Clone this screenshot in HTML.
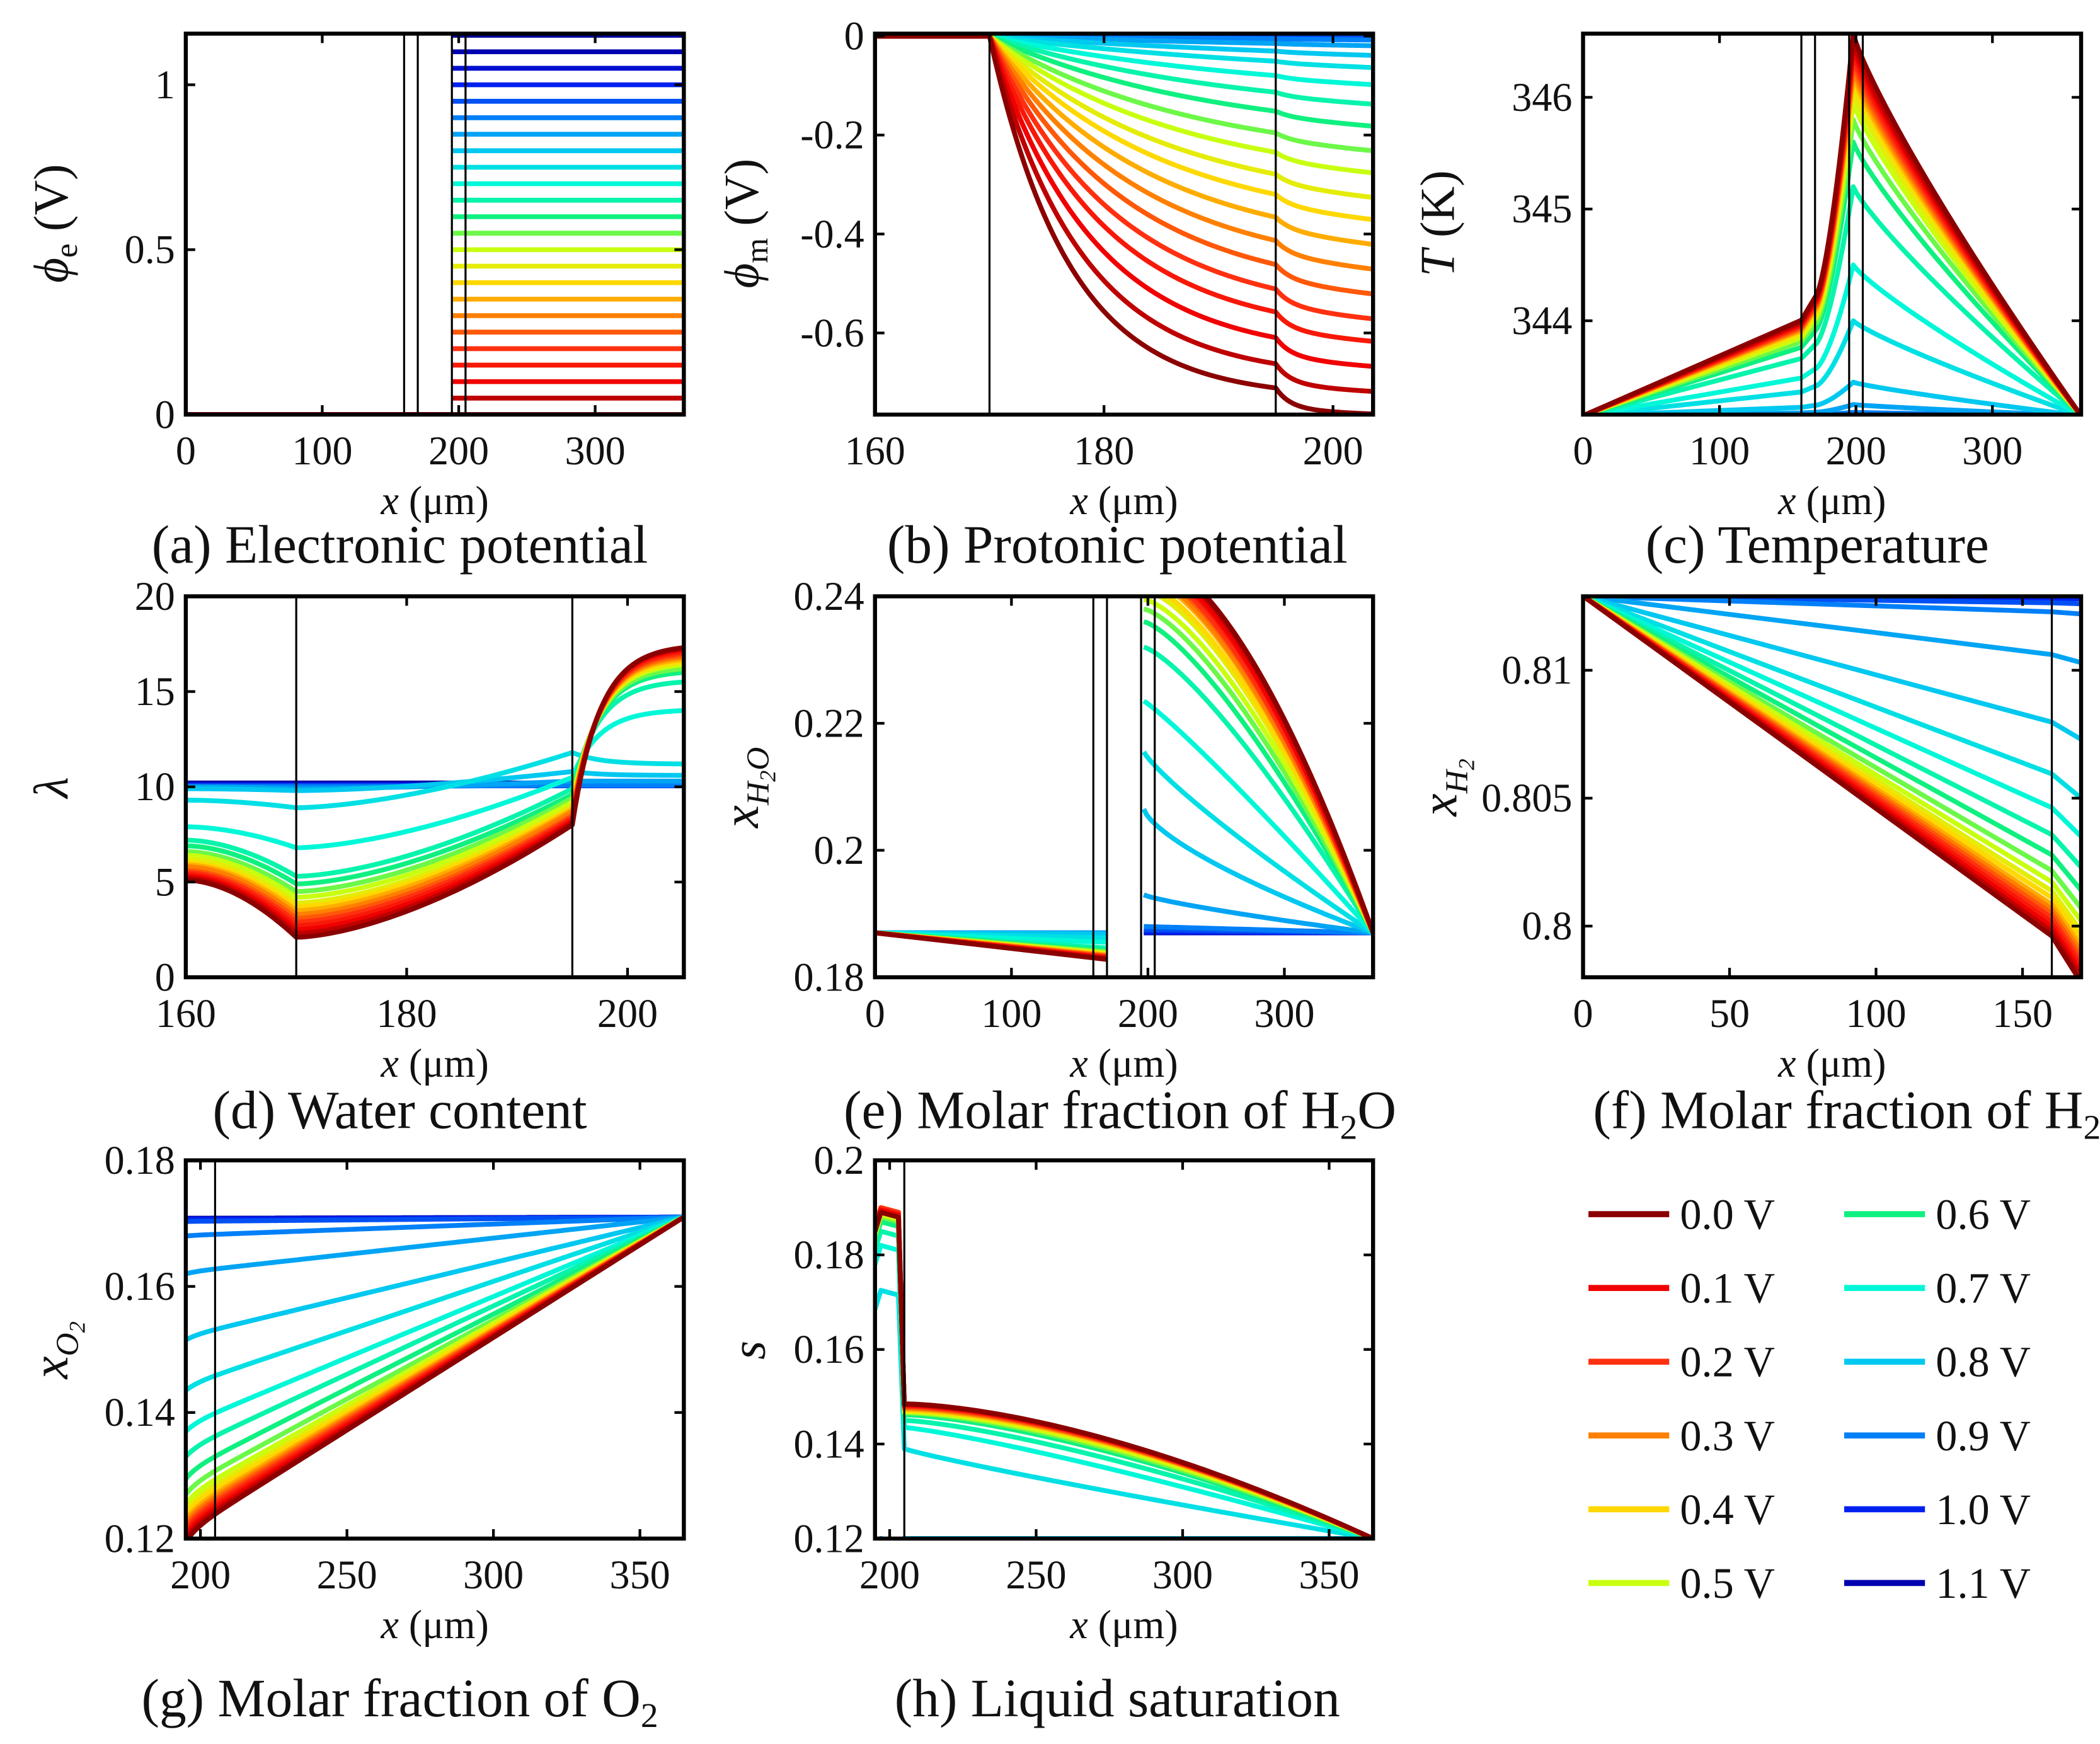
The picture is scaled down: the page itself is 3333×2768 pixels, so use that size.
<!DOCTYPE html>
<html><head><meta charset="utf-8"><title>Polarization profiles</title>
<style>
html,body{margin:0;padding:0;background:#fff;}
svg{display:block;font-family:"Liberation Serif",serif;}
svg text{font-family:"Liberation Serif",serif;fill:#111;}
</style></head>
<body>
<svg id="fig" xmlns="http://www.w3.org/2000/svg" width="3333" height="2768" viewBox="0 0 1560 1295.6" font-family="Liberation Serif, serif">
<rect x="0" y="0" width="1560" height="1296" fill="#fff"/>
<defs id="defs"></defs>
<g id="curves"></g>
<g id="axes"></g>
<text transform="translate(50,166) rotate(-90)" text-anchor="middle" font-size="36"><tspan font-style="italic">ϕ</tspan><tspan font-size="24" dy="7">e</tspan><tspan dy="-7"> (V)</tspan></text>
<text transform="translate(563,166) rotate(-90)" text-anchor="middle" font-size="36"><tspan font-style="italic">ϕ</tspan><tspan font-size="24" dy="7">m</tspan><tspan dy="-7"> (V)</tspan></text>
<text transform="translate(1080,166) rotate(-90)" text-anchor="middle" font-size="36"><tspan font-style="italic">T</tspan> (K)</text>
<text transform="translate(50,585) rotate(-90)" text-anchor="middle" font-size="36" font-style="italic">λ</text>
<text transform="translate(563,585) rotate(-90)" text-anchor="middle" font-size="38" font-style="italic">x<tspan font-size="24" dy="8">H</tspan><tspan font-size="17" dy="5">2</tspan><tspan font-size="24" dy="-5">O</tspan></text>
<text transform="translate(1082,585) rotate(-90)" text-anchor="middle" font-size="38" font-style="italic">x<tspan font-size="24" dy="8">H</tspan><tspan font-size="17" dy="5">2</tspan></text>
<text transform="translate(50,1003) rotate(-90)" text-anchor="middle" font-size="38" font-style="italic">x<tspan font-size="24" dy="8">O</tspan><tspan font-size="17" dy="5">2</tspan></text>
<text transform="translate(568,1003) rotate(-90)" text-anchor="middle" font-size="36" font-style="italic">s</text>
<text x="297" y="418" text-anchor="middle" font-size="40">(a) Electronic potential</text>
<text x="830" y="418" text-anchor="middle" font-size="40">(b) Protonic potential</text>
<text x="1350" y="418" text-anchor="middle" font-size="40">(c) Temperature</text>
<text x="297" y="838" text-anchor="middle" font-size="40">(d) Water content</text>
<text x="832" y="838" text-anchor="middle" font-size="40">(e) Molar fraction of H<tspan font-size="26" dy="8">2</tspan><tspan dy="-8">O</tspan></text>
<text x="1372" y="838" text-anchor="middle" font-size="40">(f) Molar fraction of H<tspan font-size="26" dy="8">2</tspan></text>
<text x="297" y="1275" text-anchor="middle" font-size="40">(g) Molar fraction of O<tspan font-size="26" dy="8">2</tspan></text>
<text x="830" y="1275" text-anchor="middle" font-size="40">(h) Liquid saturation</text>
<g id="legend"></g>
</svg>
<script>
const volts = [0,0.05,0.1,0.15,0.2,0.25,0.3,0.35,0.4,0.45,0.5,0.55,0.6,0.65,0.7,0.75,0.8,0.85,0.9,0.95,1.0,1.05,1.1,1.15];
const legendLabels = ["0.0 V","0.1 V","0.2 V","0.3 V","0.4 V","0.5 V","0.6 V","0.7 V","0.8 V","0.9 V","1.0 V","1.1 V"];
const legendColors = ["#8b0000","#f00000","#ff3010","#ff8000","#ffd800","#c8ff10","#10f080","#00f8d8","#00c8f0","#0080f8","#0020f0","#0000b0"];
const bEnd = [-0.765,-0.72,-0.67,-0.62,-0.575,-0.525,-0.475,-0.425,-0.375,-0.33,-0.28,-0.235,-0.185,-0.14,-0.1,-0.065,-0.04,-0.02,-0.008,-0.003,-0.001,0,0,0];
const bLen = [7,8,9,10,11,12,13,14,15,16,17,18,20,22,25,30,40,50,60,60,60,60,60,60];
const cPeak = [346.57,346.5,346.45,346.4,346.35,346.3,346.25,346.2,346.15,346.05,345.95,345.8,345.6,345.2,344.5,344.0,343.45,343.25,343.18,343.16,343.16,343.16,343.16,343.16];
const dA160 = [5.1,5.2,5.3,5.4,5.5,5.6,5.8,5.9,6.0,6.2,6.4,6.6,6.9,7.2,7.9,9.3,9.9,10,10,10.05,10.1,10.1,10.15,10.2];
const dA170 = [2.1,2.3,2.5,2.7,2.9,3.1,3.3,3.5,3.7,3.9,4.2,4.5,4.9,5.3,6.8,8.9,9.8,9.9,10,10.05,10.1,10.1,10.15,10.2];
const dA195 = [8.0,8.1,8.2,8.3,8.4,8.5,8.7,8.8,8.9,9.0,9.2,9.4,9.6,9.9,10.5,11.8,10.8,10.3,10.1,10.05,10.1,10.1,10.15,10.2];
const dA205 = [17.3,17.25,17.2,17.1,17.0,16.9,16.8,16.7,16.6,16.5,16.4,16.2,16.0,15.5,14.0,11.2,10.6,10.3,10.1,10.05,10.1,10.1,10.15,10.2];
const eAn170 = [0.1828,0.1829,0.183,0.1831,0.1832,0.1833,0.1834,0.1835,0.1836,0.1837,0.1838,0.184,0.1842,0.1846,0.1855,0.1862,0.1868,0.187,0.187,0.187,0.187,0.187,0.187,0.187];
const eCat = [0.2465,0.246,0.2455,0.245,0.2445,0.244,0.2435,0.243,0.242,0.241,0.2395,0.238,0.236,0.232,0.2235,0.2155,0.2065,0.193,0.188,0.1875,0.1872,0.187,0.187,0.187];
const ePow = [1.7,1.7,1.65,1.65,1.6,1.6,1.55,1.55,1.5,1.5,1.45,1.4,1.35,1.3,1.1,0.85,0.7,0.8,1,1,1,1,1,1];
const fEnd = [0.7978,0.798,0.7982,0.7984,0.7986,0.7988,0.799,0.7992,0.7995,0.7998,0.8002,0.8007,0.8014,0.8023,0.8035,0.805,0.8073,0.8103,0.8122,0.8126,0.8128,0.8128,0.8129,0.8129];
const gStart = [0.1195,0.12,0.1205,0.121,0.1215,0.122,0.1225,0.123,0.1238,0.1245,0.1255,0.127,0.1295,0.133,0.137,0.1435,0.1515,0.162,0.168,0.1703,0.1706,0.1707,0.1708,0.1708];
const hPlat = [0.189,0.189,0.1895,0.1895,0.19,0.19,0.19,0.19,0.19,0.19,0.1885,0.188,0.187,0.185,0.182,0.1725,0.12,0.12,0.12,0.12,0.12,0.12,0.12,0.12];
const h205 = [0.1485,0.1484,0.1483,0.1482,0.148,0.1478,0.1476,0.1474,0.1472,0.147,0.1468,0.1466,0.1462,0.145,0.1435,0.139,0.12,0.12,0.12,0.12,0.12,0.12,0.12,0.12];
const hPow = [1.6,1.6,1.6,1.6,1.6,1.6,1.6,1.6,1.6,1.6,1.55,1.5,1.45,1.35,1.2,0.9,1,1,1,1,1,1,1,1];
const ticks = {
 a:{x:[0,100,200,300],xl:["0","100","200","300"],y:[0,0.5,1],yl:["0","0.5","1"]},
 b:{x:[160,180,200],xl:["160","180","200"],y:[0,-0.2,-0.4,-0.6],yl:["0","-0.2","-0.4","-0.6"]},
 c:{x:[0,100,200,300],xl:["0","100","200","300"],y:[344,345,346],yl:["344","345","346"]},
 d:{x:[160,180,200],xl:["160","180","200"],y:[0,5,10,15,20],yl:["0","5","10","15","20"]},
 e:{x:[0,100,200,300],xl:["0","100","200","300"],y:[0.18,0.2,0.22,0.24],yl:["0.18","0.2","0.22","0.24"]},
 f:{x:[0,50,100,150],xl:["0","50","100","150"],y:[0.8,0.805,0.81],yl:["0.8","0.805","0.81"]},
 g:{x:[200,250,300,350],xl:["200","250","300","350"],y:[0.12,0.14,0.16,0.18],yl:["0.12","0.14","0.16","0.18"]},
 h:{x:[200,250,300,350],xl:["200","250","300","350"],y:[0.12,0.14,0.16,0.18,0.2],yl:["0.12","0.14","0.16","0.18","0.2"]}
};
const vlines = {a:[160,170,195,205],b:[170,195],c:[160,170,195,205],d:[170,195],e:[160,170,195,205],f:[160],g:[205],h:[205]};

const NS="http://www.w3.org/2000/svg";
const panels = {
 a:{box:[138,25,508,308],xr:[0,365],yr:[0,1.155]},
 b:{box:[650,25,1020,308],xr:[160,203.5],yr:[-0.765,0.005]},
 c:{box:[1176,25,1546,308],xr:[0,365],yr:[343.16,346.57]},
 d:{box:[138,443,508,726],xr:[160,205.1],yr:[0,20]},
 e:{box:[650,443,1020,726],xr:[0,365],yr:[0.18,0.24]},
 f:{box:[1176,443,1546,726],xr:[0,170],yr:[0.798,0.81289]},
 g:{box:[138,862,508,1143],xr:[195,365],yr:[0.12,0.18]},
 h:{box:[650,862,1020,1143],xr:[195,365],yr:[0.12,0.2]}
};
function mk(tag,parent){const e=document.createElementNS(NS,tag);parent.appendChild(e);return e;}
function hex2rgb(h){return [parseInt(h.substr(1,2),16),parseInt(h.substr(3,2),16),parseInt(h.substr(5,2),16)];}
function colorFor(i){
  const p=i/2, lo=Math.floor(p), hi=Math.min(11,Math.ceil(p));
  if(i===23) return "#0000a0";
  const a=hex2rgb(legendColors[lo]), b=hex2rgb(legendColors[hi]), f=p-lo;
  return "rgb("+a.map((v,k)=>Math.round(v+(b[k]-v)*f)).join(",")+")";
}
function sx(P,x){const b=P.box;return b[0]+(x-P.xr[0])/(P.xr[1]-P.xr[0])*(b[2]-b[0]);}
function sy(P,y){const b=P.box;return b[3]-(y-P.yr[0])/(P.yr[1]-P.yr[0])*(b[3]-b[1]);}
function range(a,b,st){const r=[];for(let x=a;x<=b+1e-9;x+=st)r.push(x);if(r[r.length-1]<b)r.push(b);return r;}

function curveA(i){return [[[0,0],[195,0]],[[195,volts[i]],[365,volts[i]]]];}
function curveB(i){
  const E=bEnd[i],L=bLen[i],pts=[[160,0],[170,0]];
  for(const x of range(170,205,0.25)){
    const s=(1-Math.exp(-(x-170)/L))/(1-Math.exp(-35/L));
    let v=E*0.95*s; if(x>195) v+=E*0.05*(1-Math.exp(-(x-195)/1.2));
    pts.push([x,v]);
  }
  return [pts];
}
function curveC(i){
  const P=cPeak[i],d=P-343.15,pts=[];
  pts.push([0,343.15]);pts.push([160,343.15+d*0.25]);pts.push([170,343.15+d*0.31]);
  for(const x of range(170,198,1)){const t=(x-170)/28;pts.push([x,343.15+d*(0.31+0.69*Math.pow(t,1.5))]);}
  for(const x of range(198,365,2)){const u=(x-198)/167;pts.push([x,P-d*Math.pow(u,0.85)]);}
  return [pts];
}
function curveD(i){
  const a0=dA160[i],a1=dA170[i],a2=dA195[i],a3=dA205[i],pts=[];
  for(const x of range(160,170,0.5)){const s=(x-160)/10;pts.push([x,a0+(a1-a0)*Math.pow(s,1.8)]);}
  for(const x of range(170,195,0.5)){const t=(x-170)/25;pts.push([x,a1+(a2-a1)*Math.pow(t,1.6)]);}
  for(const x of range(195,205.1,0.25)){pts.push([x,a2+(a3-a2)*(1-Math.exp(-(x-195)/2.5))/(1-Math.exp(-4))]);}
  return [pts];
}
function curveE(i){
  const an=[[0,0.187],[160,0.187+(eAn170[i]-0.187)*0.94],[170,eAn170[i]]];
  const c=eCat[i],p=ePow[i],cat=[];
  for(const x of range(197,365,2)){const t=(x-197)/168;cat.push([x,0.187+(c-0.187)*(1-Math.pow(t,p))]);}
  return [an,cat];
}
function curveF(i){const E=fEnd[i];return [[[0,0.8129],[160,0.8129-(0.8129-E)*0.88],[170,E]]];}
function curveG(i){
  const s=gStart[i],pts=[];
  for(const x of range(195,365,1)){const u=(x-195)/170;const k=u+0.03*(1-Math.exp(-(x-195)/4))*(1-u);pts.push([x,s+(0.171-s)*k]);}
  return [pts];
}
function curveH(i){
  const pl=hPlat[i],h0=h205[i],p=hPow[i];
  const pts=[[195,pl-0.004],[197,pl],[203,pl-0.001],[205,h0]];
  for(const x of range(206,365,2)){const t=(x-205)/160;pts.push([x,0.12+(h0-0.12)*(1-Math.pow(t,p))]);}
  return [pts];
}
const curveFns={a:curveA,b:curveB,c:curveC,d:curveD,e:curveE,f:curveF,g:curveG,h:curveH};
const FONT="Liberation Serif, serif";

const defs=document.getElementById('defs'), curvesG=document.getElementById('curves'), axesG=document.getElementById('axes');
for(const key of Object.keys(panels)){
  const P=panels[key], b=P.box;
  const cp=mk('clipPath',defs); cp.setAttribute('id','clip-'+key);
  const cr=mk('rect',cp); cr.setAttribute('x',b[0]);cr.setAttribute('y',b[1]);cr.setAttribute('width',b[2]-b[0]);cr.setAttribute('height',b[3]-b[1]);
  const g=mk('g',curvesG); g.setAttribute('clip-path','url(#clip-'+key+')');
  
  
  for(let i=volts.length-1;i>=0;i--){
    const segs=curveFns[key](i); let d="";
    for(const s of segs){d+="M"+s.map(q=>sx(P,q[0]).toFixed(2)+","+sy(P,q[1]).toFixed(2)).join("L");}
    const path=mk('path',g);
    path.setAttribute('d',d);path.setAttribute('fill','none');path.setAttribute('stroke',colorFor(i));
    path.setAttribute('stroke-width','3.6');path.setAttribute('stroke-linejoin','round');
    
    
  }
  for(const xv of vlines[key]){
    const l=mk('line',g); l.setAttribute('x1',sx(P,xv));l.setAttribute('x2',sx(P,xv));l.setAttribute('y1',b[1]);l.setAttribute('y2',b[3]);
    l.setAttribute('stroke','#000');l.setAttribute('stroke-width','1.5');
    
    
  }
  const ag=mk('g',axesG);
  
  
  const fr=mk('rect',ag); fr.setAttribute('x',b[0]);fr.setAttribute('y',b[1]);fr.setAttribute('width',b[2]-b[0]);fr.setAttribute('height',b[3]-b[1]);
  fr.setAttribute('fill','none');fr.setAttribute('stroke','#000');fr.setAttribute('stroke-width','3');
  
  
  const T=ticks[key];
  T.x.forEach((xv,k)=>{
    const X=sx(P,xv);
    for(const [y1,y2] of [[b[3],b[3]-7],[b[1],b[1]+7]]){const t=mk('line',ag);t.setAttribute('x1',X);t.setAttribute('x2',X);t.setAttribute('y1',y1);t.setAttribute('y2',y2);t.setAttribute('stroke','#000');t.setAttribute('stroke-width','2');}
    const tx=mk('text',ag); tx.setAttribute('x',X);tx.setAttribute('y',b[3]+37);tx.setAttribute('text-anchor','middle');tx.setAttribute('font-size','30');tx.setAttribute('font-family',FONT);tx.textContent=T.xl[k];
    
    
  });
  T.y.forEach((yv,k)=>{
    const Y=sy(P,yv);
    for(const [x1,x2] of [[b[0],b[0]+7],[b[2],b[2]-7]]){const t=mk('line',ag);t.setAttribute('x1',x1);t.setAttribute('x2',x2);t.setAttribute('y1',Y);t.setAttribute('y2',Y);t.setAttribute('stroke','#000');t.setAttribute('stroke-width','2');}
    const ty=mk('text',ag); ty.setAttribute('x',b[0]-8);ty.setAttribute('y',Y+10);ty.setAttribute('text-anchor','end');ty.setAttribute('font-size','30');ty.setAttribute('font-family',FONT);ty.textContent=T.yl[k];
    
    
  });
  const xl=mk('text',ag); xl.setAttribute('x',(b[0]+b[2])/2);xl.setAttribute('y',b[3]+74);xl.setAttribute('text-anchor','middle');xl.setAttribute('font-size','30');xl.setAttribute('font-family',FONT);
  const xi=mk('tspan',xl); xi.setAttribute('font-style','italic'); xi.textContent='x';
  const xu=mk('tspan',xl); xu.textContent=' (μm)';
  
  
}
const lg=document.getElementById('legend');
legendLabels.forEach((lab,k)=>{
  const col=k<6?0:1, row=k%6, x0=col?1370:1180, y=902+54.8*row;
  const ln=mk('line',lg); ln.setAttribute('x1',x0);ln.setAttribute('x2',x0+60);ln.setAttribute('y1',y);ln.setAttribute('y2',y);
  ln.setAttribute('stroke',legendColors[k]);ln.setAttribute('stroke-width','4.5');
  
  
  const t=mk('text',lg); t.setAttribute('x',x0+68);t.setAttribute('y',y+11);t.setAttribute('font-size','32');t.setAttribute('font-family',FONT);t.textContent=lab;
  
  
});
</script>
</body></html>
